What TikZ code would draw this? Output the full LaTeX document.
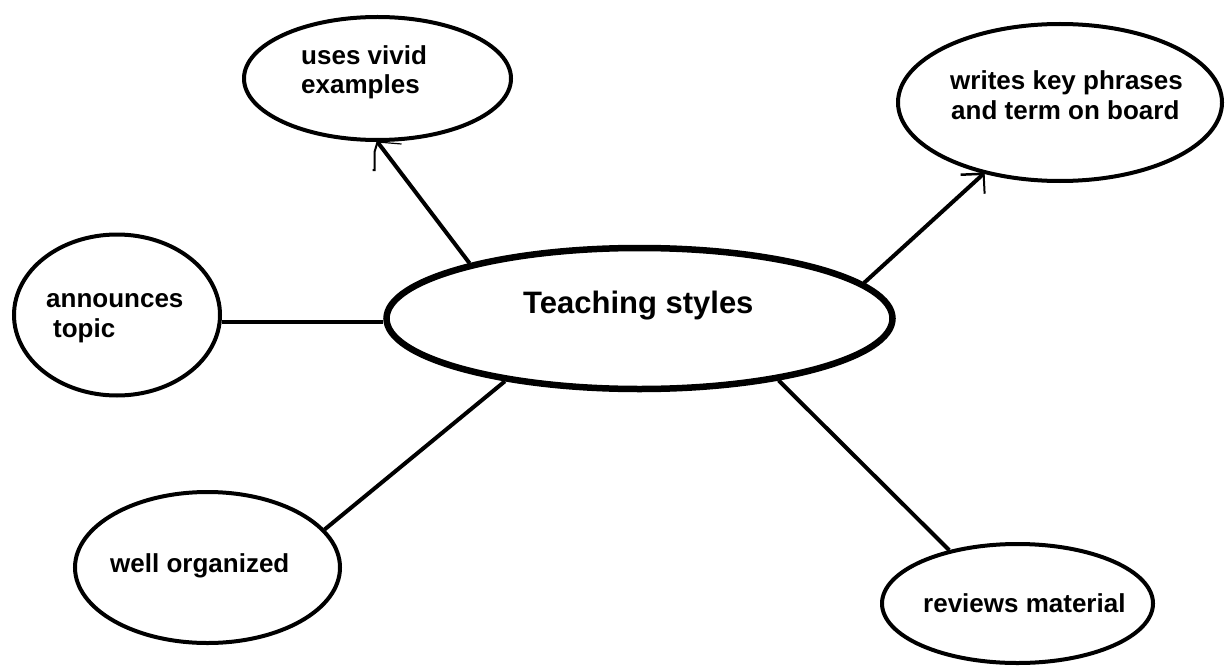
\documentclass[tikz,border=0pt]{standalone}
\usepackage{fontspec}
\setmainfont{Liberation Sans}
\usetikzlibrary{shapes.geometric}
\begin{document}
\begin{tikzpicture}[x=1pt,y=-1pt,
  bub/.style={ellipse, draw, line width=4pt, inner sep=0pt},
  lbl/.style={anchor=base west, inner sep=0pt, font=\bfseries\fontsize{26}{30}\selectfont},
  conn/.style={line width=4pt},
  barb/.style={line width=2pt}]
\useasboundingbox (0,0) rectangle (1225,666);
% ellipses
\node[bub, line width=6.5pt, minimum width=506pt, minimum height=141pt] (C) at (639.5,318.5) {};
\node[bub, minimum width=267pt, minimum height=123pt] (V) at (377.5,78.5) {};
\node[bub, minimum width=324pt, minimum height=157pt] (K) at (1060,102.5) {};
\node[bub, minimum width=206pt, minimum height=161pt] (A) at (117,315) {};
\node[bub, minimum width=265pt, minimum height=151pt] (W) at (207.5,567.5) {};
\node[bub, minimum width=271pt, minimum height=119pt] (R) at (1017.5,603.5) {};
% labels
\node[lbl, font=\bfseries\fontsize{31}{36}\selectfont] (tC) at (523,313) {Teaching styles};
\node[lbl] (tV1) at (301,65) {uses vivid};
\node[lbl] (tV2) at (301,94) {examples};
\node[lbl] (tK1) at (950,90) {writes key phrases};
\node[lbl] (tK2) at (951,120) {and term on board};
\node[lbl] (tA1) at (46,307) {announces};
\node[lbl] (tA2) at (53,337) {topic};
\node[lbl] (tW) at (110,572) {well organized};
\node[lbl] (tR) at (923,612) {reviews material};
% connectors
\draw[conn] (C.162) -- (V.270) coordinate (vt);
\draw[barb] (vt) -- ++(-3,10) -- ++(0,18) -- ++(-2,0);
\draw[barb, line width=1.2pt] (vt) -- ++(24,2);
\draw[conn] (C.9) -- (K.223) coordinate (kt);
\draw[barb, line width=2.5pt] (kt) -- ++(-23,1);
\draw[barb] (kt) -- ++(1,20);
\draw[conn] (A.356.7) -- (A.356.7 -| C.west);
\draw[conn] (C.205) -- (W.18);
\draw[conn] (C.336) -- (R.142);
\end{tikzpicture}
\end{document}
